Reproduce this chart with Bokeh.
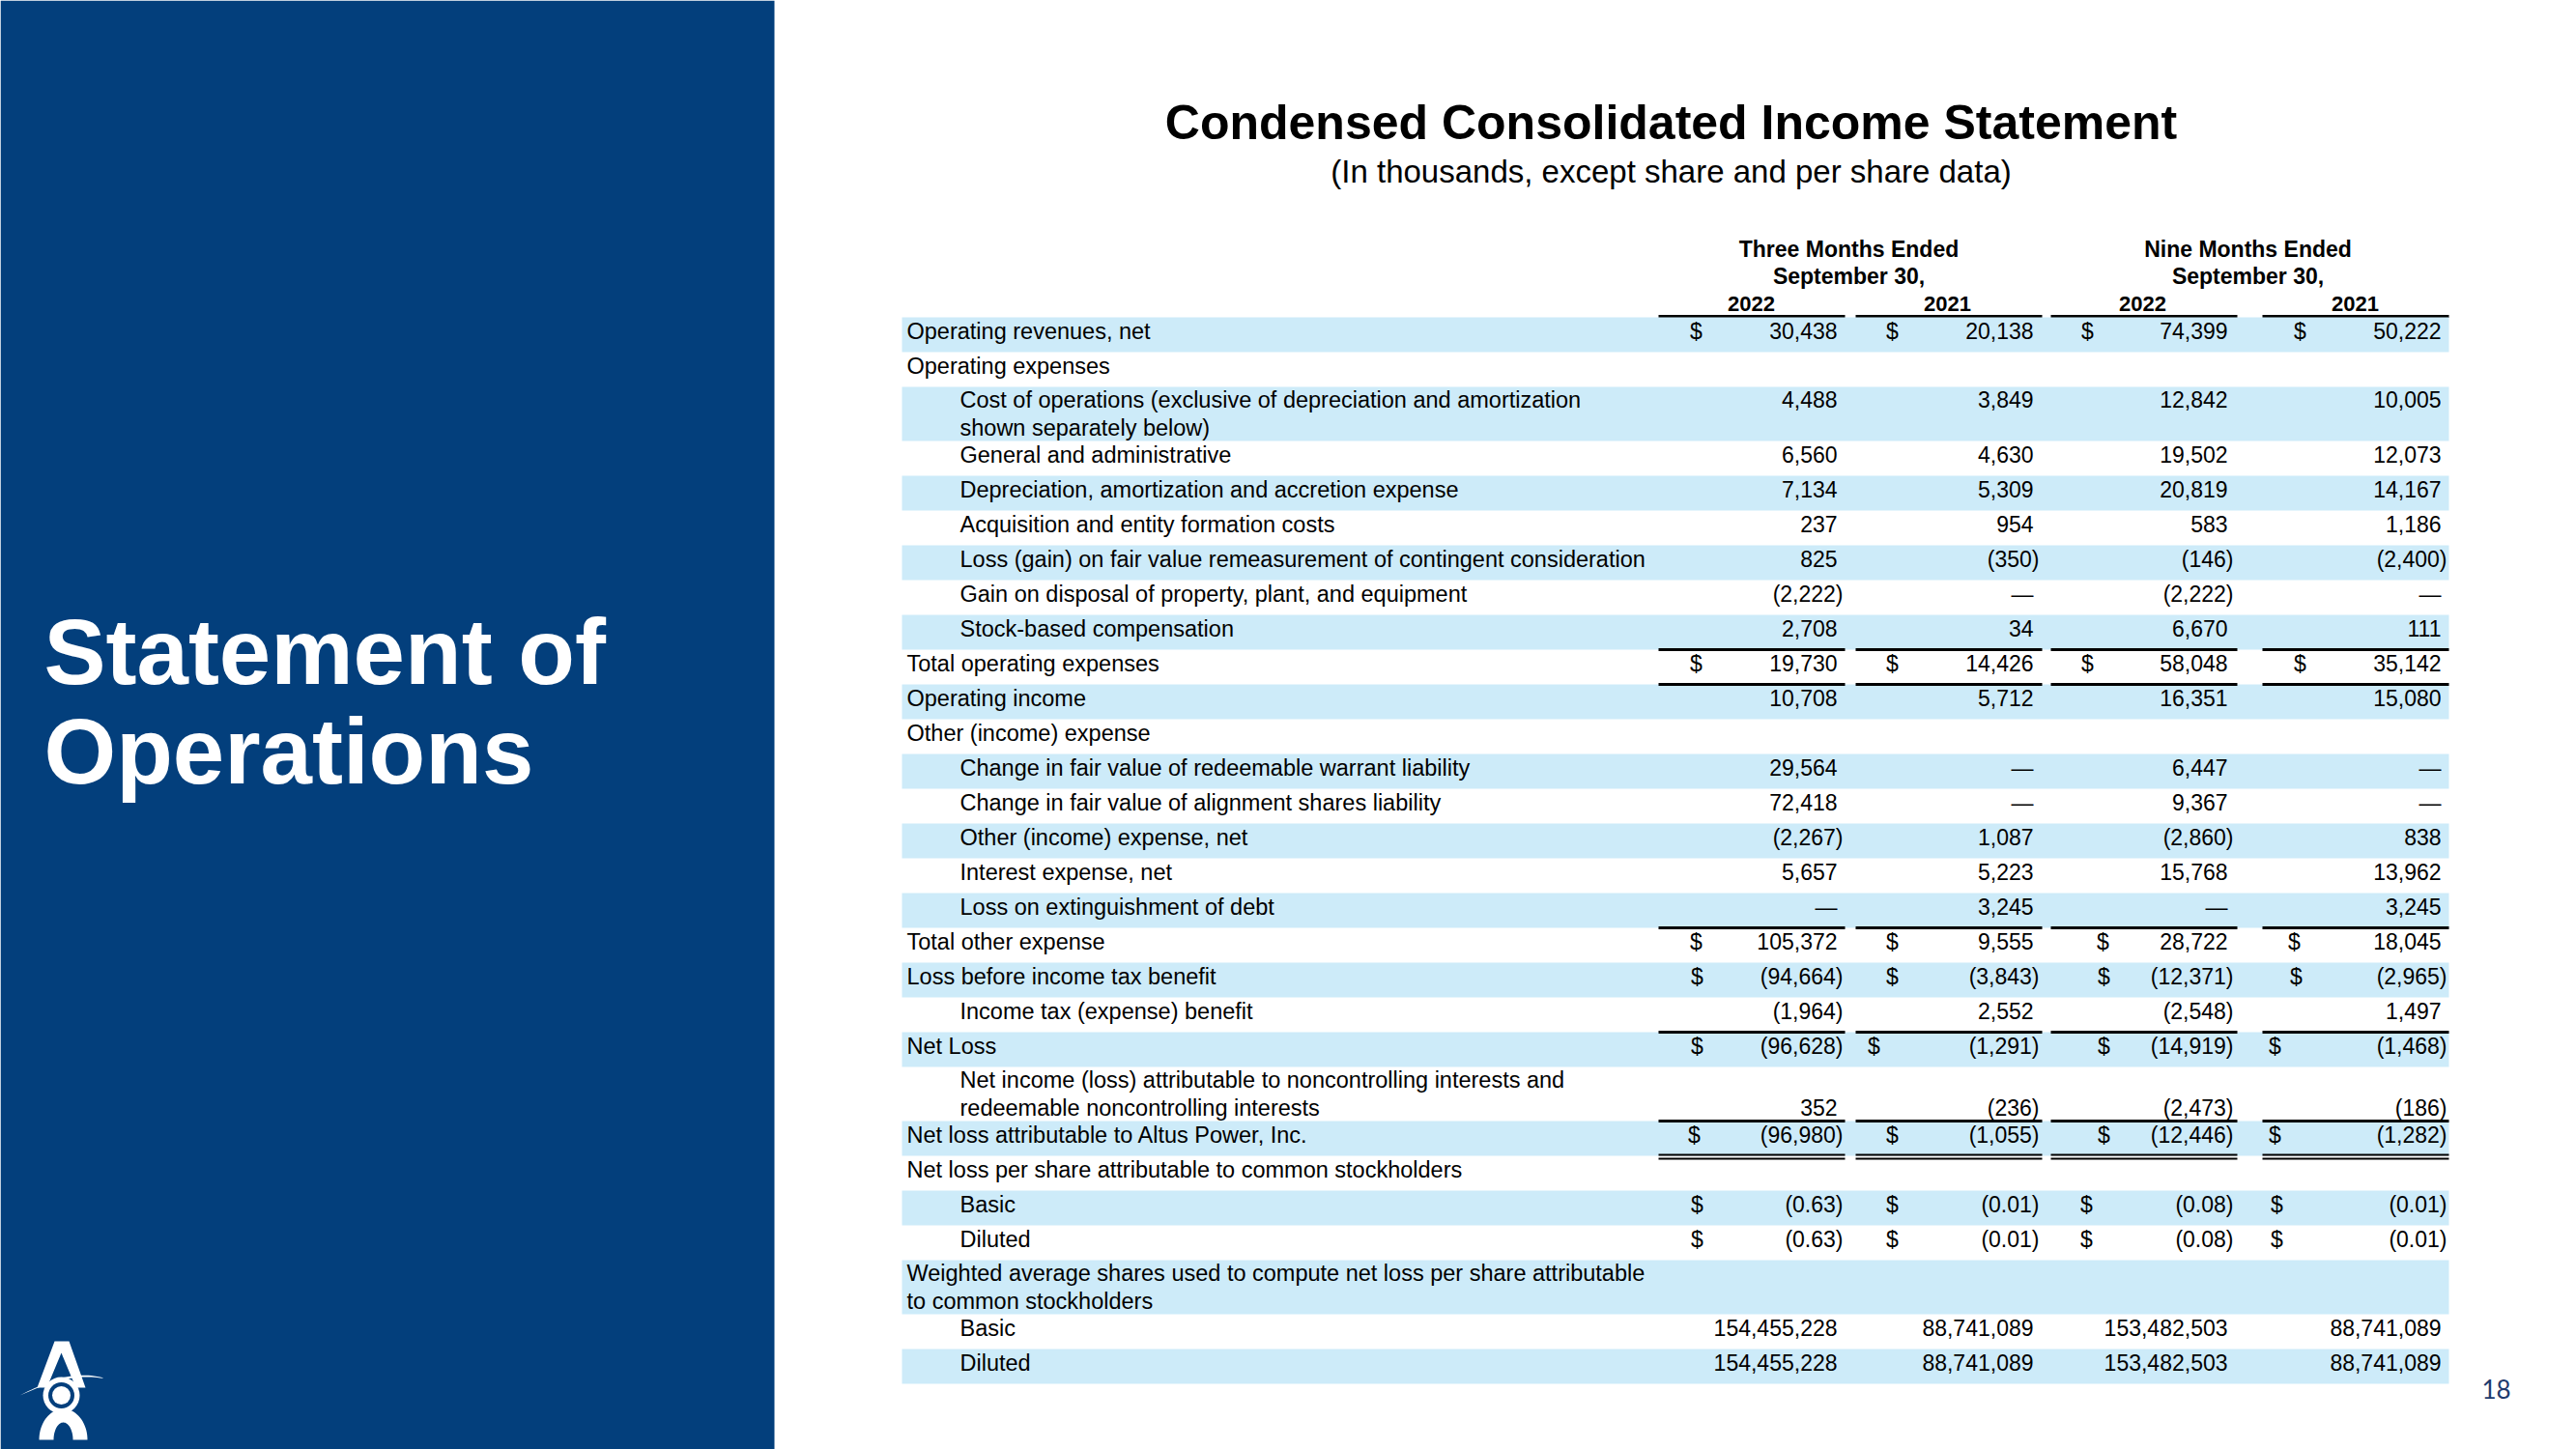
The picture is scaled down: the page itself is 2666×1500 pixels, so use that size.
import numpy as np
from bokeh.plotting import figure
from bokeh.models import Range1d
from bokeh.embed import file_html
from bokeh.resources import INLINE
from bokeh.core.properties import value

# ---------------- data ----------------
title = "Condensed Consolidated Income Statement"
subtitle = "(In thousands, except share and per share data)"
side_title = ["Statement of", "Operations"]
page_number = "18"
group_headers = ["Three Months Ended", "Nine Months Ended"]
group_subheader = "September 30,"
years = ["2022", "2021", "2022", "2021"]

row_labels = [
    "Operating revenues, net",
    "Operating expenses",
    "Cost of operations (exclusive of depreciation and amortization\nshown separately below)",
    "General and administrative",
    "Depreciation, amortization and accretion expense",
    "Acquisition and entity formation costs",
    "Loss (gain) on fair value remeasurement of contingent consideration",
    "Gain on disposal of property, plant, and equipment",
    "Stock-based compensation",
    "Total operating expenses",
    "Operating income",
    "Other (income) expense",
    "Change in fair value of redeemable warrant liability",
    "Change in fair value of alignment shares liability",
    "Other (income) expense, net",
    "Interest expense, net",
    "Loss on extinguishment of debt",
    "Total other expense",
    "Loss before income tax benefit",
    "Income tax (expense) benefit",
    "Net Loss",
    "Net income (loss) attributable to noncontrolling interests and\nredeemable noncontrolling interests",
    "Net loss attributable to Altus Power, Inc.",
    "Net loss per share attributable to common stockholders",
    "Basic",
    "Diluted",
    "Weighted average shares used to compute net loss per share attributable\nto common stockholders",
    "Basic",
    "Diluted",
]

q3_2022 = [30438, None, 4488, 6560, 7134, 237, 825, -2222, 2708, 19730, 10708, None,
           29564, 72418, -2267, 5657, 0, 105372, -94664, -1964, -96628, 352, -96980,
           None, -0.63, -0.63, None, 154455228, 154455228]
q3_2021 = [20138, None, 3849, 4630, 5309, 954, -350, 0, 34, 14426, 5712, None,
           0, 0, 1087, 5223, 3245, 9555, -3843, 2552, -1291, -236, -1055,
           None, -0.01, -0.01, None, 88741089, 88741089]
ytd_2022 = [74399, None, 12842, 19502, 20819, 583, -146, -2222, 6670, 58048, 16351, None,
            6447, 9367, -2860, 15768, 0, 28722, -12371, -2548, -14919, -2473, -12446,
            None, -0.08, -0.08, None, 153482503, 153482503]
ytd_2021 = [50222, None, 10005, 12073, 14167, 1186, -2400, 0, 111, 35142, 15080, None,
            0, 0, 838, 13962, 3245, 18045, -2965, 1497, -1468, -186, -1282,
            None, -0.01, -0.01, None, 88741089, 88741089]
columns = [q3_2022, q3_2021, ytd_2022, ytd_2021]

# ---------------- styling / layout ----------------
row_indent = [0, 0, 1, 1, 1, 1, 1, 1, 1, 0, 0, 0, 1, 1, 1, 1, 1, 0, 0, 1, 0, 1, 0, 0, 1, 1, 0, 1, 1]
dollar_rows = [0, 9, 17, 18, 20, 22, 24, 25]
rule_above_rows = [9, 10, 17, 20, 22]
double_rule_rows = [22]
value_on_second_line = [21]

BLUE = "#033F7C"
BAND = "#CDEBF9"
FONT = "Liberation Sans"

W, H = 2666, 1500
p = figure(width=W, height=H, x_range=Range1d(0, W), y_range=Range1d(H, 0),
           output_backend="svg", toolbar_location=None,
           x_axis_type=None, y_axis_type=None, min_border=0)
p.outline_line_color = None
p.background_fill_color = "white"
p.border_fill_color = "white"
p.xgrid.visible = False
p.ygrid.visible = False

# left panel
p.quad(left=[0], right=[801], top=[0], bottom=[1500], fill_color=BLUE, line_color=None)

p.text(x=[45, 45], y=[674, 777], text=side_title, text_font=value(FONT),
       text_font_style="bold", text_font_size="96px", text_color="white",
       text_align="left", text_baseline="middle")

# logo (decorative)
lx, ly = 63, 1444
p.patches(xs=[[56, 71, 88, 78, 63, 48, 38]], ys=[[1388, 1388, 1436, 1436, 1400, 1436, 1436]],
          fill_color="white", line_color=None)
t = np.linspace(0, 1, 30)
sx = 20 + 86 * t
up = 1444 - 24 * np.sin(np.pi * t * 0.62) + 4 * t
lo = 1444 - 19 * np.sin(np.pi * t * 0.62)
p.patches(xs=[list(sx) + list(sx[::-1])], ys=[list(up) + list(lo[::-1])],
          fill_color="white", line_color=None)
a = np.linspace(0, np.pi, 40)
p.patches(xs=[list(65 + 25 * np.cos(a)) + list(65 + 10 * np.cos(a[::-1]))],
          ys=[list(1490 - 32 * np.sin(a)) + list(1490 - 18 * np.sin(a[::-1]))],
          fill_color="white", line_color=None)
p.circle(x=[lx], y=[ly], radius=19, fill_color="white", line_color=None)
p.circle(x=[lx], y=[ly], radius=13.5, fill_color=BLUE, line_color=None)
p.circle(x=[lx], y=[ly], radius=9.5, fill_color="white", line_color=None)

# titles
p.text(x=[1729], y=[126], text=[title], text_font=value(FONT), text_font_style="bold",
       text_font_size="50px", text_align="center", text_baseline="middle", text_color="black")
p.text(x=[1729], y=[177], text=[subtitle], text_font=value(FONT),
       text_font_size="33px", text_align="center", text_baseline="middle", text_color="black")

# column headers
grp_x = [1913, 2326]
for gx, g in zip(grp_x, group_headers):
    p.text(x=[gx, gx], y=[257, 285], text=[g, group_subheader], text_font=value(FONT),
           text_font_style="bold", text_font_size="23px", text_align="center",
           text_baseline="middle", text_color="black")
year_x = [1812, 2015, 2217, 2437]
p.text(x=year_x, y=[314] * 4, text=years, text_font=value(FONT), text_font_style="bold",
       text_font_size="22px", text_align="center", text_baseline="middle", text_color="black")

seg_l = [1716, 1920, 2122, 2341]
seg_r = [1909, 2113, 2315, 2534]
p.segment(x0=seg_l, x1=seg_r, y0=[327] * 4, y1=[327] * 4, line_color="black", line_width=3)

# rows geometry
top0 = 328
heights = [56 if "\n" in lab else 36 for lab in row_labels]
tops = list(top0 + np.concatenate([[0], np.cumsum(heights)[:-1]]))

band_top = [tops[i] for i in range(len(row_labels)) if i % 2 == 0]
band_bot = [tops[i] + heights[i] for i in range(len(row_labels)) if i % 2 == 0]
p.quad(left=933, right=2534, top=band_top, bottom=band_bot, fill_color=BAND, line_color=None)

# labels
lab_x, lab_y, lab_t = [], [], []
for i, lab in enumerate(row_labels):
    parts = lab.split("\n")
    x = 993 if row_indent[i] else 938
    for k, part in enumerate(parts):
        lab_x.append(x)
        lab_y.append(tops[i] + (14 if len(parts) == 1 else 13 + 29 * k))
        lab_t.append(part)
p.text(x=lab_x, y=lab_y, text=lab_t, text_font=value(FONT), text_font_size="23.5px",
       text_align="left", text_baseline="middle", text_color="black")


def fmt(v):
    if v is None:
        return ""
    if v == 0:
        return "\u2014"
    if isinstance(v, float):
        s = f"{abs(v):.2f}"
    else:
        s = f"{abs(v):,}"
    return f"({s})" if v < 0 else s


num_right = [1901, 2104, 2305, 2526]
nx, ny, nt = [], [], []
for c, col in enumerate(columns):
    for i, v in enumerate(col):
        if v is None:
            continue
        if heights[i] > 36:
            y = tops[i] + (42 if i in value_on_second_line else 13)
        else:
            y = tops[i] + 14
        nx.append(num_right[c] + (6 if (v < 0) else 0))
        ny.append(y)
        nt.append(fmt(v))
p.text(x=nx, y=ny, text=nt, text_font=value(FONT), text_font_size="23px",
       text_align="right", text_baseline="middle", text_color="black")

# dollar signs
dollar_default = [1755, 1958, 2160, 2380]
dollar_shift = {17: [1755, 1958, 2176, 2374], 18: [1756, 1958, 2177, 2376],
                20: [1756, 1939, 2177, 2354], 22: [1753, 1958, 2177, 2354],
                24: [1756, 1958, 2159, 2356], 25: [1756, 1958, 2159, 2356]}
dx, dy = [], []
for i in dollar_rows:
    xs_ = dollar_shift.get(i, dollar_default)
    for c in range(4):
        dx.append(xs_[c])
        dy.append(tops[i] + 14)
p.text(x=dx, y=dy, text=["$"] * len(dx), text_font=value(FONT), text_font_size="23px",
       text_align="center", text_baseline="middle", text_color="black")

# rules
rx0, rx1, ry = [], [], []
for i in rule_above_rows:
    for c in range(4):
        rx0.append(seg_l[c]); rx1.append(seg_r[c]); ry.append(tops[i])
p.segment(x0=rx0, x1=rx1, y0=ry, y1=ry, line_color="black", line_width=3)
dx0, dx1, dyy = [], [], []
for i in double_rule_rows:
    for off in (35, 39):
        for c in range(4):
            dx0.append(seg_l[c]); dx1.append(seg_r[c]); dyy.append(tops[i] + off)
p.segment(x0=dx0, x1=dx1, y0=dyy, y1=dyy, line_color="black", line_width=2)

# page number
p.text(x=[2583], y=[1437], text=[page_number], text_font=value("Lato"), text_font_size="26px",
       text_align="center", text_baseline="middle", text_color="#1F3B6E")

open("out.html", "w").write(file_html(p, INLINE))
